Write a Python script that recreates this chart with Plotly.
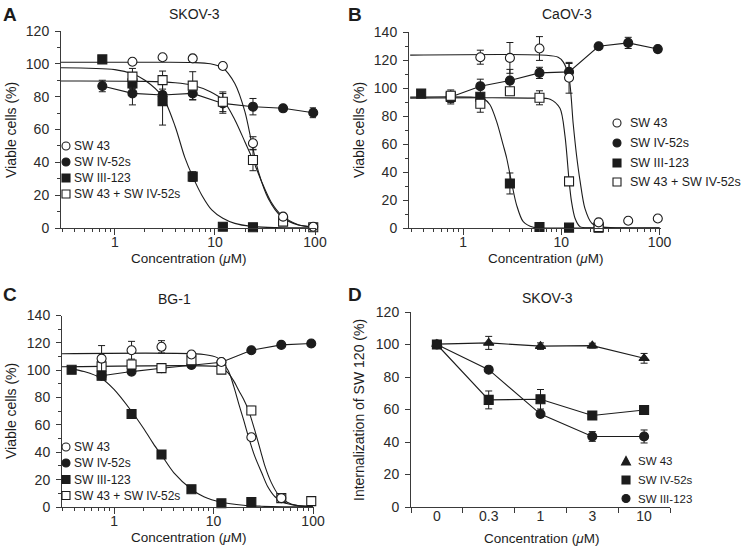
import math
import plotly.graph_objects as go

# ---------------- data ----------------
# Panel A : SKOV-3 viability
A_conc_sw43 = [1.5, 3, 6, 12, 24, 48, 96]
A_sw43 = [101.3, 104.0, 103.3, 98.7, 51.6, 6.9, 0.8]
A_sw43_err = [1.0, 1.0, 1.0, 1.5, 4.0, 1.0, 1.0]
A_conc_iv52 = [0.75, 1.5, 3, 6, 12, 24, 48, 96]
A_iv52 = [86.5, 82.0, 81.0, 82.0, 75.9, 73.9, 72.9, 70.2]
A_iv52_err = [3.5, 7.0, 2.0, 4.0, 6.0, 5.0, 1.5, 3.0]
A_conc_iii = [0.75, 1.5, 3, 6, 12, 24]
A_iii = [102.7, 88.1, 77.3, 31.3, 0.8, 0.5]
A_iii_err = [1.0, 3.0, 14.6, 3.0, 0.5, 0.5]
A_conc_combo = [1.5, 3, 6, 12, 24, 48, 96]
A_combo = [92.2, 90.1, 86.7, 76.9, 41.4, 3.9, 0.5]
A_combo_err = [5.0, 5.5, 8.5, 6.0, 6.5, 1.0, 0.5]
# fitted curves
A_fit_sw43_x = [0.29, 3, 6, 9, 12, 15.8, 19.9, 23.3, 27.3, 34.1, 46, 68, 100]
A_fit_sw43_y = [101, 101, 100.8, 100, 97.5, 88, 71, 52, 34, 18, 7, 1.8, 0.7]
A_fit_combo_x = [0.29, 2, 4, 6, 9, 12, 15.8, 19.9, 24, 29.3, 36.3, 46, 68, 100]
A_fit_combo_y = [89.5, 89.3, 88.5, 87, 83, 78, 66, 52.6, 41.5, 28.2, 16, 8, 2, 0.5]
A_fit_iii_x = [0.29, 1, 1.5, 2, 3, 4, 5, 6, 7.4, 9.3, 12, 15.8, 23, 40, 100]
A_fit_iii_y = [97.6, 96.5, 94, 90, 80, 62, 43, 31.3, 20, 11, 5.9, 2.8, 1.0, 0.3, 0.1]

# Panel B : CaOV-3 viability
B_conc_sw43 = [1.5, 3, 6, 12, 24, 48, 96]
B_sw43 = [122.0, 121.5, 128.2, 107.3, 4.0, 5.2, 6.8]
B_sw43_err = [5.0, 11.0, 8.5, 11.0, 1.5, 1.0, 0.5]
B_conc_iv52 = [0.75, 1.5, 3, 6, 12, 24, 48, 96]
B_iv52 = [93.6, 101.3, 105.3, 110.8, 111.5, 129.8, 132.2, 127.8]
B_iv52_err = [4.0, 5.0, 8.0, 4.0, 6.0, 2.0, 4.0, 1.0]
B_conc_iii = [0.375, 0.75, 1.5, 3, 6, 12, 24]
B_iii = [96.0, 93.6, 93.7, 31.8, 0.7, 0.3, 0.2]
B_iii_err = [1.0, 5.0, 1.0, 7.5, 0.5, 0.3, 0.3]
B_conc_combo = [0.75, 1.5, 3, 6, 12, 24]
B_combo = [94.5, 88.7, 97.7, 93.0, 33.3, 0.7]
B_combo_err = [2.0, 6.0, 1.0, 5.0, 1.0, 0.5]
B_fit_sw43_x = [0.29, 7, 9.3, 10.5, 12, 13.2, 14.3, 15.5, 17.4, 20.4, 25, 40, 100]
B_fit_sw43_y = [123.5, 123.4, 122, 118.5, 107, 75, 52, 34, 14, 3.5, 0.8, 0.1, 0]
B_fit_combo_x = [0.29, 5, 7.7, 9.7, 10.9, 12, 12.7, 13.8, 15.5, 20, 100]
B_fit_combo_y = [92.8, 92.8, 92, 85.5, 66, 34, 19, 7, 1.0, 0.1, 0]
B_fit_iii_x = [0.29, 1.3, 1.61, 1.88, 2.2, 2.57, 2.78, 3.13, 3.51, 4.1, 5.2, 10, 100]
B_fit_iii_y = [93.5, 93.4, 92.5, 88, 76, 59, 50, 32, 16.4, 4.5, 0.5, 0, 0]

# Panel C : BG-1 viability
C_conc_sw43 = [0.75, 1.5, 3, 6, 12, 24, 48]
C_sw43 = [108.5, 114.6, 117.1, 111.5, 106.0, 51.0, 6.5]
C_sw43_err = [9.5, 6.5, 4.5, 1.0, 1.0, 1.0, 1.0]
C_conc_iv52 = [0.75, 1.5, 3, 6, 12, 24, 48, 96]
C_iv52 = [96.0, 99.0, 101.4, 103.8, 105.8, 114.6, 118.5, 119.5]
C_iv52_err = [1.0, 1.0, 1.0, 1.0, 1.0, 1.0, 1.0, 1.0]
C_conc_iii = [0.375, 0.75, 1.5, 3, 6, 12, 24]
C_iii = [100.3, 95.9, 68.0, 38.4, 13.0, 2.7, 3.7]
C_iii_err = [0.5, 0.5, 1.0, 1.0, 1.0, 0.5, 0.5]
C_conc_combo = [0.75, 1.5, 3, 6, 12, 24, 48, 96]
C_combo = [102.8, 104.2, 101.5, 107.3, 100.4, 70.6, 6.5, 4.3]
C_combo_err = [1.0, 1.0, 1.0, 1.0, 1.0, 3.0, 1.0, 1.0]
C_fit_sw43_x = [0.29, 8, 11, 14, 16, 18, 20, 22.4, 26, 30.5, 35, 41.5, 50, 70, 100]
C_fit_sw43_y = [112, 111.5, 109, 100, 88, 75, 64, 51.5, 37, 25, 15, 7.5, 3.5, 1, 0.3]
C_fit_combo_x = [0.29, 10, 12, 14, 16, 18, 20, 22.4, 26, 30, 33, 38, 45, 55, 70, 100]
C_fit_combo_y = [102.5, 103, 102, 98, 92, 85, 79, 71, 56, 40, 29.5, 18, 8.8, 3.5, 1, 0.3]
C_fit_iii_x = [0.375, 0.5, 0.75, 1, 1.5, 2, 2.5, 3, 4, 6, 8, 12, 20, 30, 50, 100]
C_fit_iii_y = [101, 99, 94, 86, 70, 57, 46, 38, 25, 13, 7.5, 3.5, 1.3, 0.6, 0.2, 0.1]

# Panel D : SKOV-3 internalization of SW 120
D_conc = ["0", "0.3", "1", "3", "10"]
D_sw43 = [100.2, 101.0, 99.0, 99.3, 91.5]
D_sw43_err = [0.5, 4.0, 2.0, 1.5, 3.0]
D_iv52 = [100.0, 65.9, 66.3, 56.3, 59.7]
D_iv52_err = [0.5, 5.5, 6.0, 1.0, 1.0]
D_iii = [100.0, 84.5, 57.2, 43.4, 43.4]
D_iii_err = [0.5, 1.0, 1.5, 3.0, 4.0]

# ---------------- figure ----------------
W, H = 747, 558
INK = "#1c1c1c"
FONT = "Liberation Sans, Arial, Helvetica, sans-serif"

def px(x):
    return x / W

def py(y):
    return 1 - y / H

fig = go.Figure()

def fit(xs, ys, ax):
    fig.add_trace(go.Scatter(x=xs, y=ys, mode="lines", xaxis="x" + ax, yaxis="y" + ax,
                             line=dict(color=INK, width=1.1, shape="spline", smoothing=0.8),
                             showlegend=False, hoverinfo="skip", cliponaxis=True))

def pts(xs, ys, err, ax, symbol, filled, lines=False, size=9):
    fig.add_trace(go.Scatter(
        x=xs, y=ys, mode="lines+markers" if lines else "markers",
        xaxis="x" + ax, yaxis="y" + ax,
        line=dict(color=INK, width=1.1),
        marker=dict(symbol=symbol, size=size, color=INK if filled else "white",
                    line=dict(color=INK, width=1.1)),
        error_y=dict(type="data", array=err, color=INK, thickness=1, width=3.5),
        showlegend=False, cliponaxis=False))

# A
fit(A_fit_sw43_x, A_fit_sw43_y, "")
fit(A_fit_combo_x, A_fit_combo_y, "")
fit(A_fit_iii_x, A_fit_iii_y, "")
pts(A_conc_iv52, A_iv52, A_iv52_err, "", "circle", True, lines=True)
pts(A_conc_iii, A_iii, A_iii_err, "", "square", True)
pts(A_conc_combo, A_combo, A_combo_err, "", "square", False)
pts(A_conc_sw43, A_sw43, A_sw43_err, "", "circle", False)
# B
fit(B_fit_sw43_x, B_fit_sw43_y, "2")
fit(B_fit_combo_x, B_fit_combo_y, "2")
fit(B_fit_iii_x, B_fit_iii_y, "2")
pts(B_conc_iv52, B_iv52, B_iv52_err, "2", "circle", True, lines=True)
pts(B_conc_iii, B_iii, B_iii_err, "2", "square", True)
pts(B_conc_combo, B_combo, B_combo_err, "2", "square", False)
pts(B_conc_sw43, B_sw43, B_sw43_err, "2", "circle", False)
# C
fit(C_fit_sw43_x, C_fit_sw43_y, "3")
fit(C_fit_combo_x, C_fit_combo_y, "3")
fit(C_fit_iii_x, C_fit_iii_y, "3")
pts(C_conc_iv52, C_iv52, C_iv52_err, "3", "circle", True, lines=True)
pts(C_conc_iii, C_iii, C_iii_err, "3", "square", True)
pts(C_conc_combo, C_combo, C_combo_err, "3", "square", False)
pts(C_conc_sw43, C_sw43, C_sw43_err, "3", "circle", False)
# D
pts(D_conc, D_sw43, D_sw43_err, "4", "triangle-up", True, lines=True, size=9)
pts(D_conc, D_iv52, D_iv52_err, "4", "square", True, lines=True, size=9)
pts(D_conc, D_iii, D_iii_err, "4", "circle", True, lines=True, size=9)

tickfont = dict(family=FONT, size=14, color="#2a2a2a")
common = dict(showline=True, linecolor="#3a3a3a", linewidth=1, ticks="outside",
              tickcolor="#3a3a3a", showgrid=False, zeroline=False, tickfont=tickfont,
              automargin=False)

def logx(domain, anchor, lo, hi):
    return dict(type="log", domain=domain, anchor=anchor,
                range=[math.log10(lo), math.log10(hi)],
                tickmode="array", tickvals=[1, 10, 100], ticktext=["1", "10", "100"],
                ticklen=6, ticklabelstandoff=-5,
                minor=dict(ticks="outside", ticklen=3, tickcolor="#3a3a3a", dtick="D1"),
                **common)

def liny(domain, anchor, top):
    return dict(domain=domain, anchor=anchor, range=[0, top], dtick=20, tick0=0,
                ticklen=5, ticklabelstandoff=3,
                minor=dict(ticks="outside", ticklen=3, tickcolor="#3a3a3a", dtick=10),
                **common)

fig.update_layout(
    template="none",
    width=W, height=H, margin=dict(l=0, r=0, t=0, b=0, pad=0, autoexpand=False),
    paper_bgcolor="white", plot_bgcolor="white",
    font=dict(family=FONT, color=INK),
    showlegend=False,
    xaxis=logx([px(61), px(316)], "y", 0.29, 102.3),
    yaxis=liny([py(228), py(31)], "x", 120),
    xaxis2=logx([px(409), px(661)], "y2", 0.282, 103.5),
    yaxis2=liny([py(228), py(32)], "x2", 140),
    xaxis3=logx([px(62), px(314)], "y3", 0.30, 102.3),
    yaxis3=liny([py(507), py(315.5)], "x3", 140),
    xaxis4=dict(type="category", domain=[px(411), px(670)], anchor="y4",
                categoryorder="array", categoryarray=D_conc, range=[-0.5, 4.5],
                tickson="boundaries", ticklen=5, ticklabelstandoff=-4, **common),
    yaxis4=dict(domain=[py(507), py(312)], anchor="x4", range=[0, 120], dtick=20,
                ticklen=5, ticklabelstandoff=3, **common),
)

ann = []

def text(x, y, s, size=14, bold=False, angle=0, xanchor="center"):
    ann.append(dict(x=px(x), y=py(y), xref="paper", yref="paper", text=f"<b>{s}</b>" if bold else s,
                    showarrow=False, textangle=angle, xanchor=xanchor, yanchor="middle",
                    font=dict(family=FONT, size=size, color=INK)))

# panel letters and titles
text(10, 14, "A", 19, True)
text(355, 14, "B", 19, True)
text(10, 294, "C", 19, True)
text(355, 294, "D", 19, True)
text(194, 14, "SKOV-3", 14)
text(567, 14, "CaOV-3", 14)
text(174, 299, "BG-1", 14)
text(547, 298, "SKOV-3", 14)
# axis titles
conc = "Concentration (<i>μ</i>M)"
text(188, 258, conc, 13.5)
text(545, 258, conc, 13.5)
text(188, 537, conc, 13.5)
text(541, 538, conc, 13.5)
text(11, 130, "Viable cells (%)", 14, angle=-90)
text(359, 130, "Viable cells (%)", 14, angle=-90)
text(11, 411, "Viable cells (%)", 14, angle=-90)
text(359, 410, "Internalization of SW 120 (%)", 14, angle=-90)

shapes = []

def marker(cx, cy, kind, filled, r=4):
    fill = INK if filled else "white"
    base = dict(xref="paper", yref="paper", line=dict(color=INK, width=1.1), fillcolor=fill)
    if kind == "circle":
        shapes.append(dict(type="circle", x0=px(cx - r), x1=px(cx + r), y0=py(cy + r), y1=py(cy - r), **base))
    elif kind == "square":
        shapes.append(dict(type="rect", x0=px(cx - r), x1=px(cx + r), y0=py(cy + r), y1=py(cy - r), **base))
    else:
        path = (f"M {px(cx - r - 0.5)} {py(cy + r)} L {px(cx + r + 0.5)} {py(cy + r)} "
                f"L {px(cx)} {py(cy - r - 0.5)} Z")
        shapes.append(dict(type="path", path=path, **base))

def legend(mx, tx, ys, items, size=12.5):
    for y, (label, kind, filled) in zip(ys, items):
        marker(mx, y, kind, filled)
        text(tx, y, label, size, xanchor="left")

viab_items = [("SW 43", "circle", False), ("SW IV-52s", "circle", True),
              ("SW III-123", "square", True), ("SW 43 + SW IV-52s", "square", False)]
legend(66, 72, [146, 162, 178, 194], viab_items, 12)
legend(617, 628, [123, 143, 163, 182], viab_items, 12.5)
legend(66, 72, [447, 463, 479.5, 495.5], viab_items, 12)
legend(626, 636, [461, 480, 498.5],
       [("SW 43", "triangle", True), ("SW IV-52s", "square", True), ("SW III-123", "circle", True)],
       11.5)

fig.update_layout(annotations=ann, shapes=shapes)
fig.write_html("out.html", config={"displayModeBar": False},
               post_script="document.body.style.margin='0';document.body.style.padding='0';")
